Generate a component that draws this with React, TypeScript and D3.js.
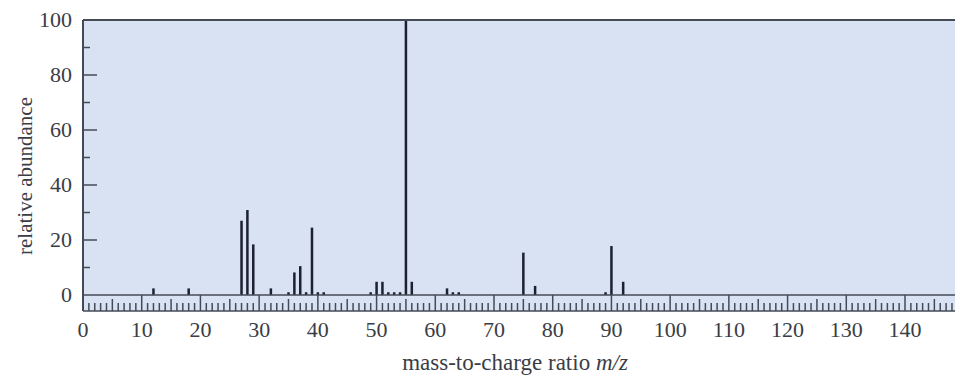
import React, { useEffect, useRef } from 'react';
import * as d3 from 'd3';

// peak positions (m/z) and relative abundances
const mzValues = [12, 18, 27, 28, 29, 32, 35, 36, 37, 38, 39, 40, 41, 49, 50, 51, 52, 53, 54, 55, 56, 62, 63, 64, 75, 77, 89, 90, 92];
const abundance = [2.4, 2.4, 27, 30.9, 18.4, 2.4, 1, 8.2, 10.5, 1, 24.5, 1, 1, 1, 4.8, 4.8, 1, 1, 1, 100, 4.8, 2.4, 1, 1, 15.4, 3.3, 1, 17.8, 4.8];
const xTickLabels = [0, 10, 20, 30, 40, 50, 60, 70, 80, 90, 100, 110, 120, 130, 140];
const yTickLabels = [0, 20, 40, 60, 80, 100];

const W = 955;
const H = 377;
const FONT = "'Liberation Serif', 'Times New Roman', serif";

const App = () => {
  const ref = useRef<SVGSVGElement | null>(null);

  useEffect(() => {
    if (!ref.current) return;
    const svg = d3.select(ref.current);
    svg.selectAll('*').remove();

    const left = 83;
    const top = 20;
    const base = 295;
    const stripBottom = 311;
    const lineColor = '#454a57';

    const x = d3.scaleLinear().domain([0, 140]).range([left, 905]);
    const y = d3.scaleLinear().domain([0, 100]).range([base, top]);
    const xMax = x.invert(W);

    // background
    svg.append('rect')
      .attr('x', left).attr('y', top)
      .attr('width', W - left).attr('height', stripBottom - top)
      .attr('fill', '#d9e2f2');

    // peaks
    const peaks = mzValues.map((m, i) => ({ m, a: abundance[i] }));
    svg.append('g').selectAll('rect')
      .data(peaks)
      .enter().append('rect')
      .attr('x', (d) => x(d.m) - 1.25)
      .attr('y', (d) => y(d.a))
      .attr('width', 2.5)
      .attr('height', (d) => base - y(d.a))
      .attr('fill', '#1b2130');

    const g = svg.append('g').attr('stroke', lineColor).attr('fill', 'none');

    // frame lines
    g.append('line').attr('x1', left).attr('x2', W).attr('y1', top).attr('y2', top).attr('stroke-width', 2);
    g.append('line').attr('x1', left).attr('x2', W).attr('y1', base).attr('y2', base).attr('stroke-width', 1.5);
    g.append('line').attr('x1', left).attr('x2', W).attr('y1', stripBottom).attr('y2', stripBottom).attr('stroke-width', 1.5);
    g.append('line').attr('x1', left).attr('x2', left).attr('y1', top).attr('y2', stripBottom).attr('stroke-width', 2);

    // strip ticks for every unit
    const units = d3.range(0, Math.floor(xMax) + 1);
    g.append('g').selectAll('line')
      .data(units)
      .enter().append('line')
      .attr('x1', (d) => x(d)).attr('x2', (d) => x(d))
      .attr('y1', (d) => (d % 10 === 0 ? base : d % 5 === 0 ? stripBottom - 12 : stripBottom - 8))
      .attr('y2', stripBottom)
      .attr('stroke-width', 1.5);

    // y ticks
    const yTicks = d3.range(10, 100, 10);
    g.append('g').selectAll('line')
      .data(yTicks)
      .enter().append('line')
      .attr('x1', left).attr('x2', (d) => left + (d % 20 === 0 ? 14 : 7))
      .attr('y1', (d) => y(d)).attr('y2', (d) => y(d))
      .attr('stroke-width', 1.5);

    // tick labels
    svg.append('g').selectAll('text')
      .data(xTickLabels)
      .enter().append('text')
      .attr('x', (d) => x(d)).attr('y', 337)
      .attr('text-anchor', 'middle')
      .style('font-family', FONT).style('font-size', '22px')
      .attr('fill', '#3a3d45')
      .text((d) => d);

    svg.append('g').selectAll('text')
      .data(yTickLabels)
      .enter().append('text')
      .attr('x', 72).attr('y', (d) => y(d) + 7)
      .attr('text-anchor', 'end')
      .style('font-family', FONT).style('font-size', '22px')
      .attr('fill', '#3a3d45')
      .text((d) => d);

    // axis titles
    const xt = svg.append('text')
      .attr('x', 515).attr('y', 370)
      .attr('text-anchor', 'middle')
      .style('font-family', FONT).style('font-size', '23px')
      .attr('fill', '#3a3d45');
    xt.append('tspan').text('mass-to-charge ratio ');
    xt.append('tspan').attr('font-style', 'italic').text('m/z');

    svg.append('text')
      .attr('transform', 'translate(32,176) rotate(-90)')
      .attr('text-anchor', 'middle')
      .style('font-family', FONT).style('font-size', '21px')
      .attr('fill', '#3a3d45')
      .text('relative abundance');
  }, []);

  return (
    <svg
      ref={ref}
      width={W}
      height={H}
      style={{ position: 'absolute', left: 0, top: 0, background: '#fff' }}
    />
  );
};

export default App;
